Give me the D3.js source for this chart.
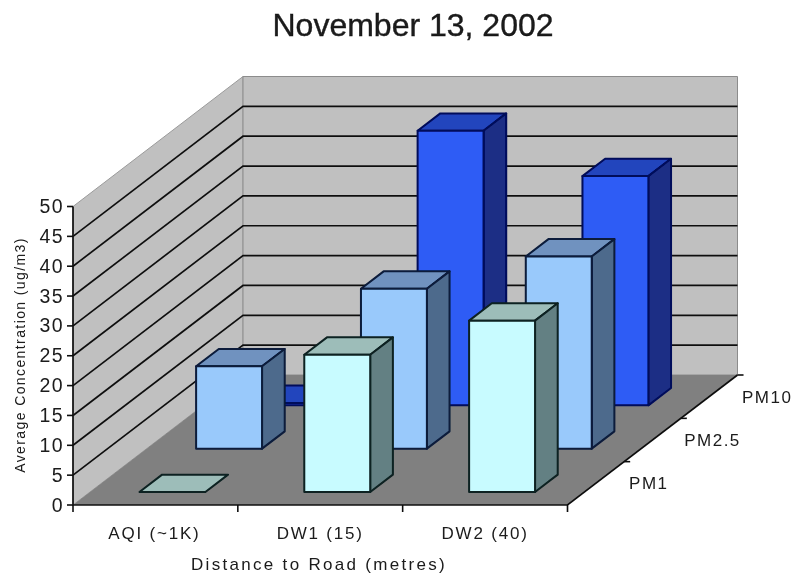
<!DOCTYPE html>
<html><head><meta charset="utf-8">
<script src="https://cdn.jsdelivr.net/npm/d3@7/dist/d3.min.js"></script>
<style>html,body{margin:0;background:#fff}svg{display:block}text{font-family:"Liberation Sans",Arial,sans-serif;fill:#1a1a1a}</style>
</head><body><div id="c"></div>
<script>
const titleText = "November 13, 2002";
const categories = ["AQI (~1K)", "DW1 (15)", "DW2 (40)"];
const seriesNames = ["PM1", "PM2.5", "PM10"];
const pm1 = [0, 23, 28.7];
const pm25 = [13.8, 26.8, 32.2];
const pm10 = [0.4, 46, 38.4];
const yTicks = d3.range(0, 51, 5);
const seriesValues = [pm1, pm25, pm10];
const palette = [
  {front:"#c8fbff", side:"#648083", top:"#9dbdb9", edge:"#0c2020"},
  {front:"#99c9fb", side:"#4d6a8c", top:"#6f92bf", edge:"#081a3a"},
  {front:"#2f5cf5", side:"#1c2f85", top:"#2445bd", edge:"#000a5a"}
];
const W = 794, H = 575;
const svg = d3.select("#c").append("svg").attr("width", W).attr("height", H);
const defs = svg.append("defs");
defs.append("filter").attr("id","soft").attr("filterUnits","userSpaceOnUse")
  .attr("x",0).attr("y",0).attr("width",W).attr("height",H)
  .append("feGaussianBlur").attr("stdDeviation",0.6);
const g = svg.append("g").attr("filter","url(#soft)");

const x0 = d3.scaleLinear().domain([0, categories.length]).range([73, 567.5]);
const dx = d3.scaleLinear().domain([0, seriesNames.length]).range([0, 170]);
const dy = d3.scaleLinear().domain([0, seriesNames.length]).range([0, -130]);
const y0 = d3.scaleLinear().domain([0, 50]).range([505, 206.5]);
const P = (c, s, v) => [x0(c) + dx(s), y0(v) + dy(s)];
const poly = pts => pts.map(p => p.join(",")).join(" ");
const nC = categories.length, nS = seriesNames.length;

// walls + floor
g.append("polygon").attr("points", poly([P(0,0,0),P(0,nS,0),P(0,nS,50),P(0,0,50)])).attr("fill","#c0c0c0").attr("stroke","#9a9a9a");
g.append("polygon").attr("points", poly([P(0,nS,0),P(nC,nS,0),P(nC,nS,50),P(0,nS,50)])).attr("fill","#c0c0c0").attr("stroke","#8c8c8c");
g.append("polygon").attr("points", poly([P(0,0,0),P(nC,0,0),P(nC,nS,0),P(0,nS,0)])).attr("fill","#808080");

// gridlines
yTicks.filter(v => v > 0 && v < 50).forEach(v => {
  g.append("polyline").attr("fill","none").attr("stroke","#111").attr("stroke-width",1.7)
    .attr("points", poly([P(0,0,v),P(0,nS,v),P(nC,nS,v)]));
});

// axes
const axisCol = "#111";
g.append("polyline").attr("fill","none").attr("stroke",axisCol).attr("stroke-width",1.7)
  .attr("points", poly([P(0,0,50),P(0,0,0),P(nC,0,0),P(nC,nS,0)]));
yTicks.forEach(v => {
  const [x,y] = P(0,0,v);
  g.append("line").attr("x1",x-6).attr("x2",x).attr("y1",y).attr("y2",y).attr("stroke",axisCol).attr("stroke-width",1.6);
  g.append("text").attr("x",x-9).attr("y",y+6.5).attr("text-anchor","end").attr("font-size",19.5).attr("letter-spacing",1.4).text(v);
});
d3.range(nC+1).forEach(c => {
  const [x,y] = P(c,0,0);
  g.append("line").attr("x1",x).attr("x2",x).attr("y1",y).attr("y2",y+7).attr("stroke",axisCol).attr("stroke-width",1.6);
});
d3.range(1,nS+1).forEach(s => {
  const [x,y] = P(nC,s,0);
  g.append("line").attr("x1",x).attr("x2",x+6).attr("y1",y).attr("y2",y).attr("stroke",axisCol).attr("stroke-width",1.6);
});

// bars, back to front
const bandPad = 0.3, bandW = 0.4;
d3.range(nS-1,-1,-1).forEach(s => {
  const col = palette[s];
  categories.forEach((cat, c) => {
    const v = seriesValues[s][c];
    const cl = c + bandPad, cr = cl + bandW, sf = s + bandPad, sb = sf + bandW;
    const bar = g.append("g").attr("stroke",col.edge).attr("stroke-width",2).attr("stroke-linejoin","round");
    bar.append("polygon").attr("points", poly([P(cl,sf,v),P(cr,sf,v),P(cr,sb,v),P(cl,sb,v)])).attr("fill",col.top);
    if (v > 0) {
      bar.append("polygon").attr("points", poly([P(cr,sf,0),P(cr,sb,0),P(cr,sb,v),P(cr,sf,v)])).attr("fill",col.side);
      bar.append("polygon").attr("points", poly([P(cl,sf,0),P(cr,sf,0),P(cr,sf,v),P(cl,sf,v)])).attr("fill",col.front);
    }
  });
});

// labels
g.append("text").attr("x",413).attr("y",36).attr("text-anchor","middle").attr("font-size",32).attr("stroke","#1a1a1a").attr("stroke-width",0.4).text(titleText);
const catShift = [-1, 0, 0];
categories.forEach((cat,c) => {
  g.append("text").attr("x",x0(c+0.5)+catShift[c]).attr("y",539).attr("text-anchor","middle").attr("font-size",17).attr("letter-spacing",1.8).text(cat);
});
const serShift = [53, 60, 58];
seriesNames.forEach((n,s) => {
  const [x,y] = P(nC,s+0.5,0);
  g.append("text").attr("x",x+serShift[s]).attr("y",y+6).attr("text-anchor","middle").attr("font-size",17).attr("letter-spacing",1.5).text(n);
});
g.append("text").attr("x",319).attr("y",570).attr("text-anchor","middle").attr("font-size",17).attr("letter-spacing",2.3).text("Distance to Road (metres)");
g.append("text").attr("transform","translate(25,355) rotate(-90)").attr("text-anchor","middle").attr("font-size",14).attr("letter-spacing",1.4).text("Average Concentration (ug/m3)");
</script></body></html>
